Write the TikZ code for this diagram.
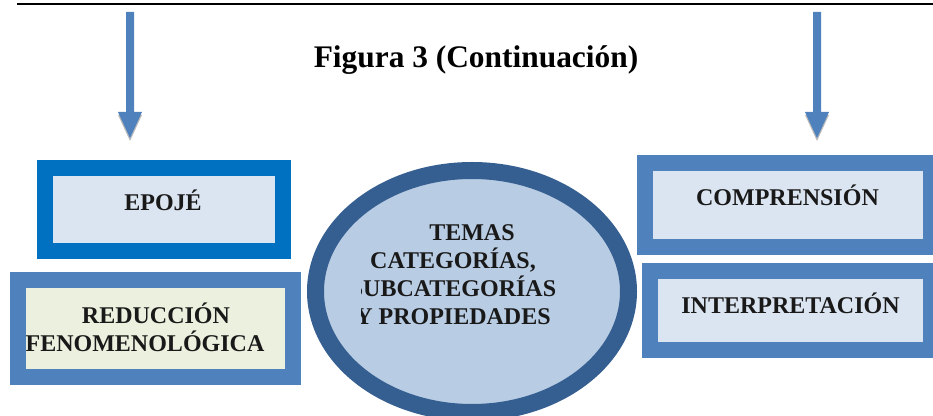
\documentclass[tikz,border=0pt]{standalone}
\usepackage{fontspec}
\setmainfont{Liberation Serif}
\definecolor{azulfuerte}{HTML}{0070C0}
\definecolor{azulmedio}{HTML}{4F81BD}
\definecolor{azuloscuro}{HTML}{365F91}
\definecolor{celeste}{HTML}{DBE5F1}
\definecolor{verdeclaro}{HTML}{EBF1DE}
\definecolor{elipfondo}{HTML}{B8CCE4}
\begin{document}
\begin{tikzpicture}[x=0.5pt,y=-0.5pt]
% estilos de texto
\tikzstyle{rotulo} = [text=black!90,font=\bfseries\fontsize{12}{14}\selectfont,inner sep=0pt,align=center]
\tikzstyle{titulo} = [font=\bfseries\fontsize{15.7}{18}\selectfont,inner sep=0pt]
% caja con borde grueso
% #1: esquina superior izquierda
% #2: esquina inferior derecha
% #3: color del borde
% #4: color del relleno
\newcommand{\caja}[4]{
\fill [#3] #1 rectangle #2;
\path #1 ++(16,16) coordinate (A);
\path #2 ++(-16,-16) coordinate (B);
\fill [#4] (A) rectangle (B);
 }
% flecha de bloque hacia abajo
% #1: x del eje
% #2: y inicial
% #3: y de la base de la punta
% #4: y de la punta
\newcommand{\flechab}[4]{
\fill [gray!55] (#1-12,#3+3) -- (#1+12,#3+3) -- (#1,#4+3) -- cycle;
\fill [azulmedio] (#1-4,#2) -- (#1+4,#2) -- (#1+4,#3) -- (#1+12,#3)
-- (#1,#4) -- (#1-12,#3) -- (#1-4,#3) -- cycle;
 }
\useasboundingbox (0,0) rectangle (933,416);
\clip (0,0) rectangle (933,416);
% linea superior y titulo
\draw [line width=0.75pt] (17,4) -- (933,4);
\node [titulo] (titulo) at (476,60) {Figura 3 (Continuación)};
% flechas
\flechab{130}{12}{112}{138}
\flechab{817}{12}{112}{138}
% cajas izquierdas
\caja{(37,160)}{(291,259)}{azulfuerte}{celeste}
\caja{(10,272)}{(301,385)}{azulmedio}{verdeclaro}
\node [rotulo] (epoje) at (163,200) {EPOJÉ};
\node [rotulo] (reduccion) at (156,327) {REDUCCIÓN\\FENOMENOLÓGICA\hspace*{11pt}};
% cajas derechas
\caja{(637,155)}{(939,255)}{azulmedio}{celeste}
\caja{(642,263)}{(939,358)}{azulmedio}{celeste}
\node [rotulo] (comprension) at (787.5,195) {COMPRENSIÓN};
\node [rotulo] (interpretacion) at (790.5,303) {INTERPRETACIÓN};
% elipse central
\draw [line width=8.5pt,azuloscuro,fill=elipfondo] (472,291.5) ellipse [x radius=156.5,y radius=121];
\begin{scope}
\clip (361,150) rectangle (640,416);
\node [rotulo] (temas) at (453,275) {\hspace*{19pt}TEMAS\\CATEGORÍAS,\\SUBCATEGORÍAS\\Y PROPIEDADES};
\end{scope}
\end{tikzpicture}
\end{document}
